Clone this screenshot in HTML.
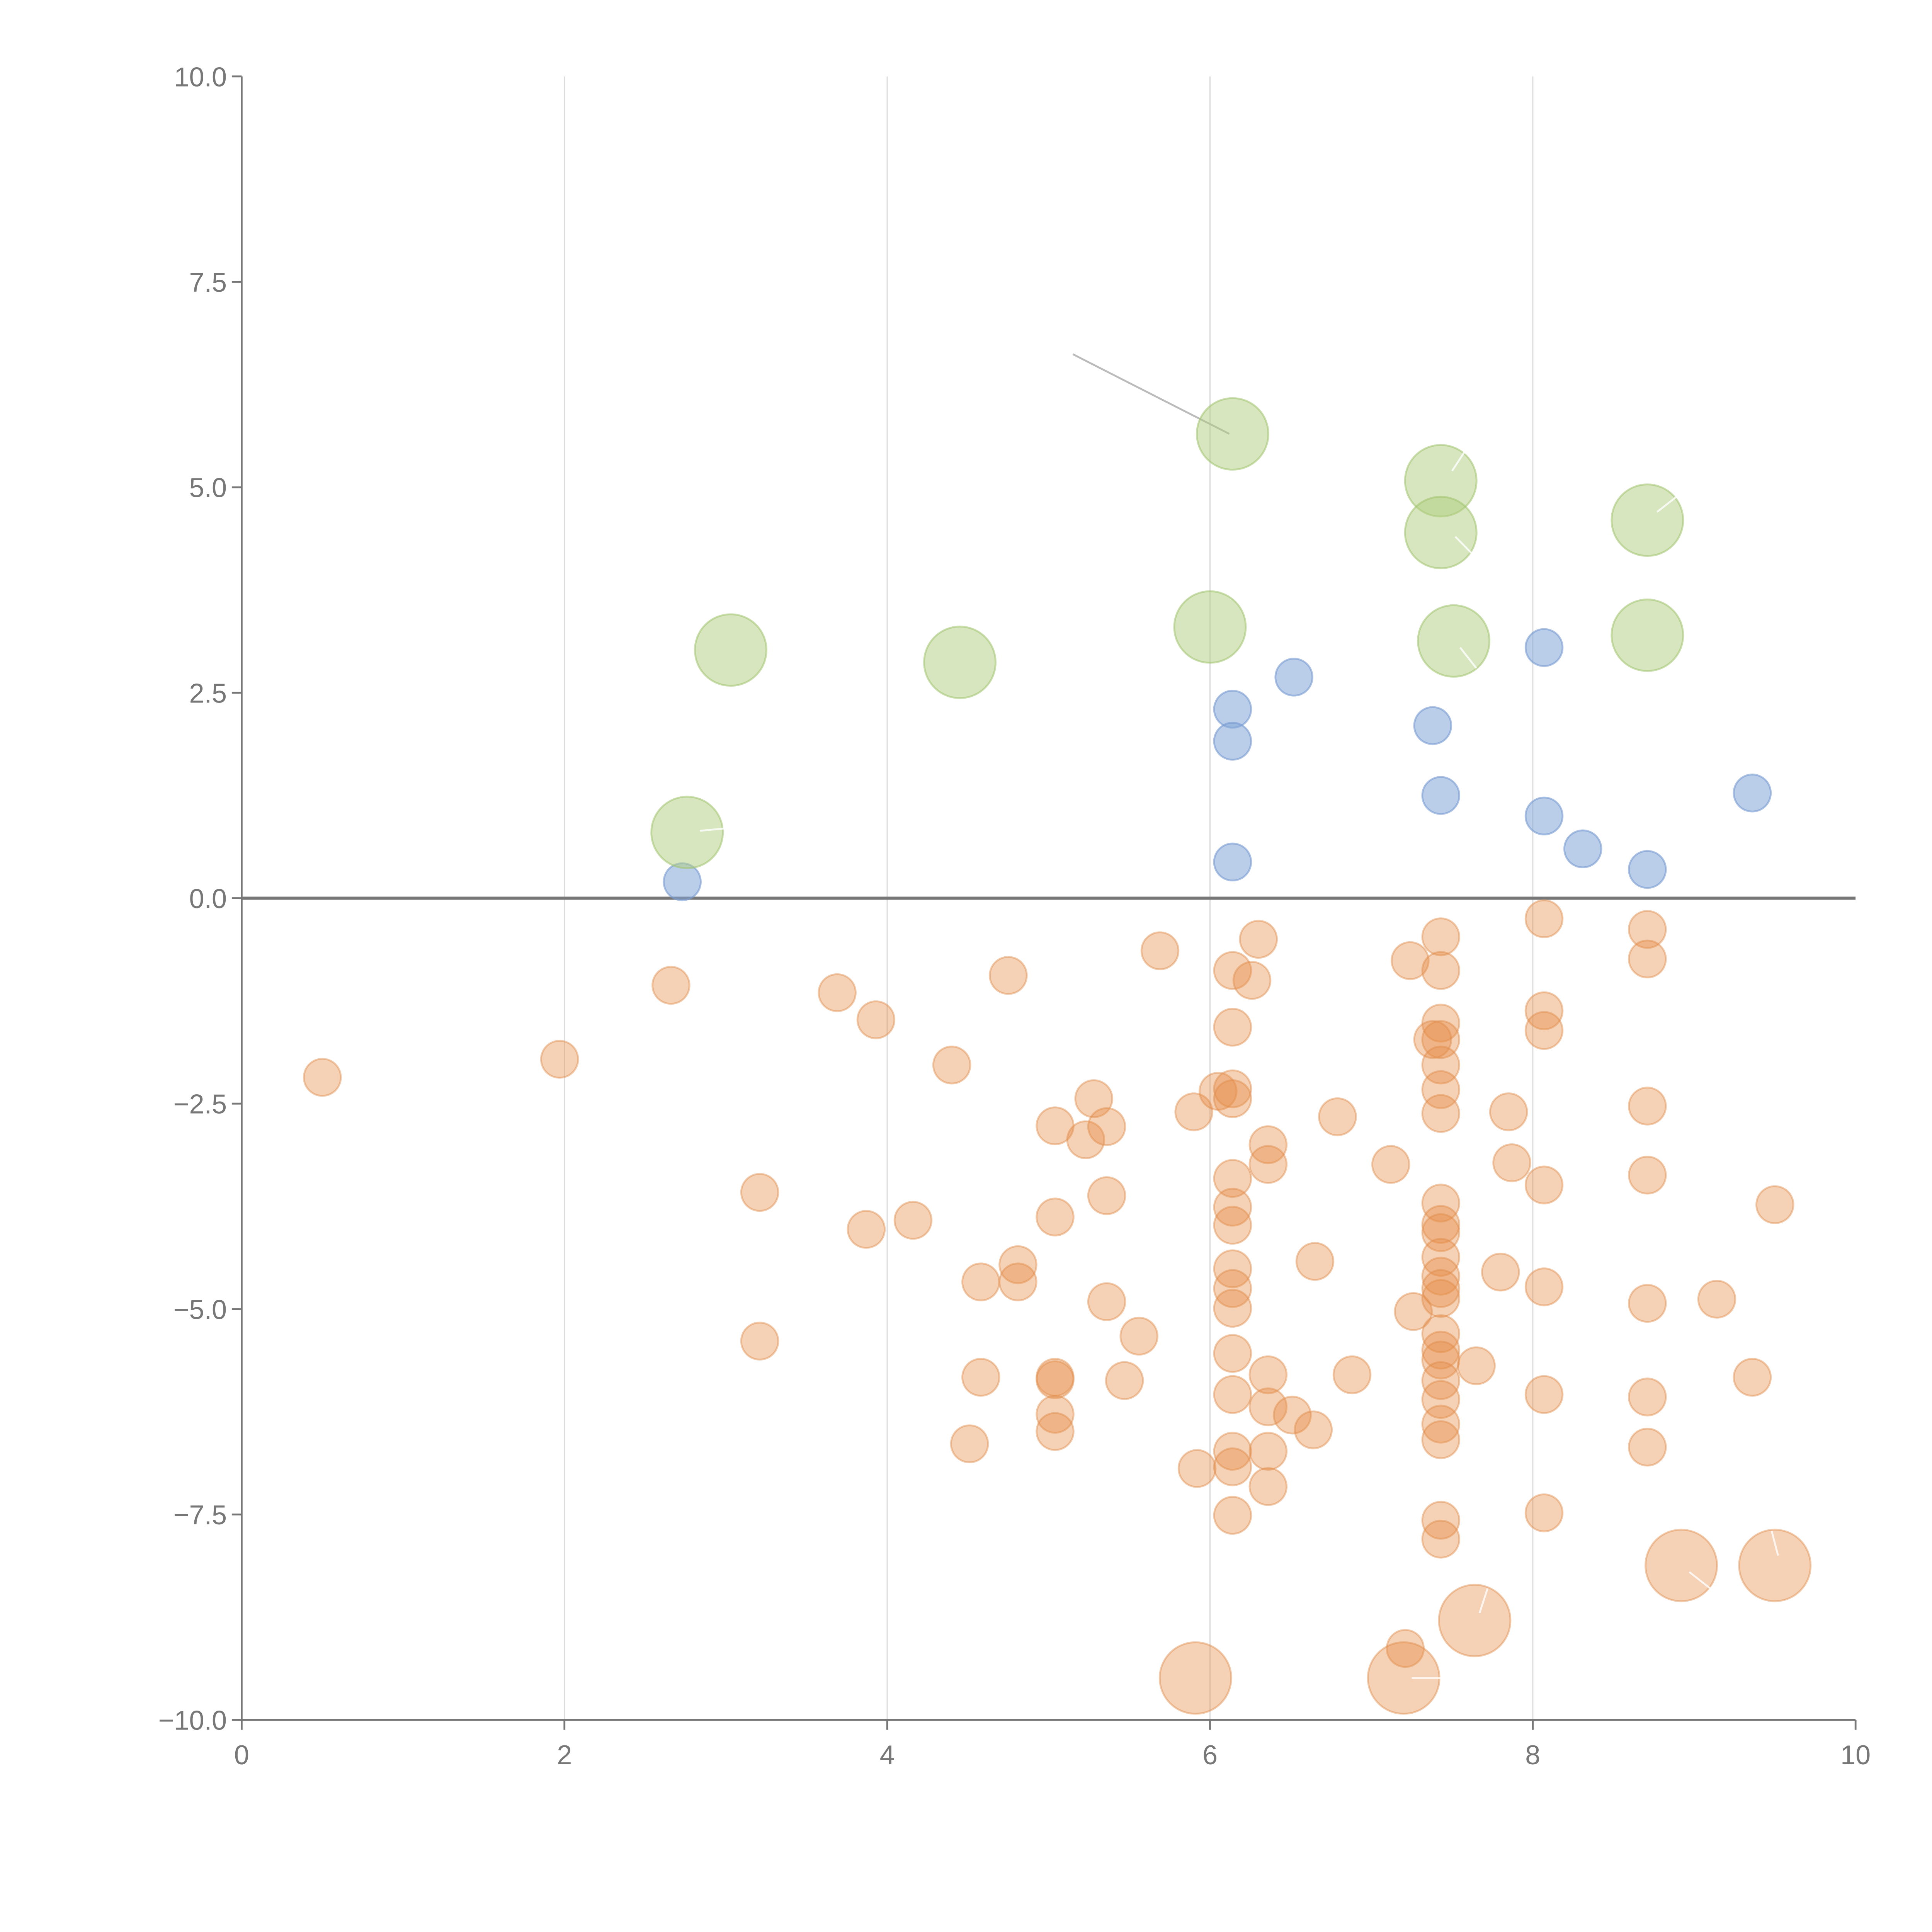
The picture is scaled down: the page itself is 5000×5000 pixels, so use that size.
<!DOCTYPE html>
<html><head><meta charset="utf-8"><style>
html,body{margin:0;padding:0;background:#fff;}
svg{display:block;}
text{font-family:"Liberation Sans",Arial,sans-serif;fill:#777;font-size:22px;}
</style></head><body>
<svg id="chart" width="5000" height="5000" viewBox="0 0 1567 1567" xmlns="http://www.w3.org/2000/svg"></svg>
<script>
const xTicks=[0,2,4,6,8,10];
const yTicks=[10,7.5,5,2.5,0,-2.5,-5,-7.5,-10];
const yTickLabels=["10.0","7.5","5.0","2.5","0.0","\u22122.5","\u22125.0","\u22127.5","\u221210.0"];
const greenX=[3.03,4.45,2.76,6.0,6.14,7.43,7.43,7.51,8.71,8.71];
const greenY=[3.02,2.87,0.80,3.3,5.65,5.08,4.45,3.13,4.6,3.2];
const blueX=[2.73,6.14,6.14,6.14,6.52,7.38,7.43,8.07,8.07,8.31,8.71,9.36];
const blueY=[0.2,2.3,1.91,0.44,2.69,2.1,1.25,3.05,1.0,0.6,0.35,1.28];
const orangeX=[0.50,1.97,2.66,3.21,3.21,3.69,3.87,3.93,4.16,4.40,4.51,4.58,4.58,4.75,4.81,4.81,5.04,5.04,5.04,5.04,5.04,5.04,5.23,5.28,5.36,5.36,5.36,5.47,5.56,5.69,5.90,5.92,6.05,
6.14,6.14,6.14,6.14,6.14,6.14,6.14,6.14,6.14,6.14,6.14,6.14,6.14,6.14,6.14,
6.26,6.30,6.36,6.36,6.36,6.36,6.36,6.36,6.51,6.65,6.64,6.79,6.88,7.12,7.24,7.26,7.21,
7.43,7.43,7.43,7.43,7.38,7.43,7.43,7.43,7.43,7.43,7.43,7.43,7.43,7.43,7.43,7.43,7.43,7.43,7.43,7.43,7.43,7.43,7.43,7.43,
7.65,7.80,7.85,7.87,8.07,8.07,8.07,8.07,8.07,8.07,8.07,8.71,8.71,8.71,8.71,8.71,8.71,8.71,9.14,9.36,9.50];
const orangeY=[-2.18,-1.96,-1.06,-3.58,-5.39,-1.15,-4.03,-1.48,-3.92,-2.03,-6.64,-4.67,-5.83,-0.94,-4.46,-4.67,-2.77,-3.88,-5.83,-5.86,-6.28,-6.49,-2.94,-2.44,-4.91,-2.78,-3.62,-5.87,-5.33,-0.64,-2.60,-6.94,-2.35,
-0.88,-1.57,-2.32,-2.44,-3.41,-3.76,-3.98,-4.51,-4.75,-4.99,-5.54,-6.04,-6.73,-6.92,-7.51,
-1.0,-0.5,-3.0,-3.24,-5.80,-6.19,-6.73,-7.16,-6.29,-4.42,-6.47,-2.66,-5.80,-3.24,-0.76,-5.03,-9.13,
-0.47,-0.88,-1.52,-1.72,-1.72,-2.03,-2.33,-2.62,-3.71,-3.97,-4.07,-4.37,-4.60,-4.87,-5.30,-5.50,-5.62,-5.87,-6.10,-6.40,-6.59,-7.57,-7.80,-4.75,
-5.69,-4.55,-2.60,-3.22,-0.25,-1.37,-1.61,-3.49,-4.73,-6.04,-7.48,-0.38,-0.74,-2.53,-3.37,-4.93,-6.07,-6.68,-4.88,-5.83,-3.73];
const bigOrangeX=[5.91,7.20,7.64,8.92,9.50];
const bigOrangeY=[-9.49,-9.49,-8.79,-8.12,-8.12];

const NS="http://www.w3.org/2000/svg";
const svg=document.getElementById('chart');
const X0=196,X1=1505,Y0=1395,Y1=62;
const sx=v=>X0+(v-0)/(10-0)*(X1-X0);
const sy=v=>Y0-(v+10)/20*(Y0-Y1);
function mk(tag,attrs,parent){const e=document.createElementNS(NS,tag);for(const k in attrs)e.setAttribute(k,attrs[k]);(parent||svg).appendChild(e);return e;}

const grid=mk('g',{});


[2,4,6,8].forEach(v=>{const l=mk('line',{x1:sx(v),x2:sx(v),y1:Y1,y2:Y0,stroke:'#ddd','stroke-width':1},grid);

});

const ax=mk('g',{});


const yl=mk('line',{x1:X0,x2:X0,y1:Y1,y2:Y0,stroke:'#777','stroke-width':1.5},ax);


const xl=mk('line',{x1:X0,x2:X1,y1:Y0,y2:Y0,stroke:'#777','stroke-width':1.5},ax);


xTicks.forEach(v=>{mk('line',{x1:sx(v),x2:sx(v),y1:Y0,y2:Y0+8,stroke:'#777','stroke-width':1.5},ax);
const t=mk('text',{x:sx(v),y:Y0+36,'text-anchor':'middle'},ax);t.textContent=v;

});
yTicks.forEach((v,i)=>{mk('line',{x1:X0-8,x2:X0,y1:sy(v),y2:sy(v),stroke:'#777','stroke-width':1.5},ax);
const t=mk('text',{x:X0-12,y:sy(v)+8,'text-anchor':'end'},ax);t.textContent=yTickLabels[i];

});

const zl=mk('line',{x1:X0,x2:X1,y1:sy(0),y2:sy(0),stroke:'#777','stroke-width':2.5});



const ann=mk('line',{x1:sx(5.15),y1:sy(6.62),x2:sx(6.12),y2:sy(5.65),stroke:'#bbb','stroke-width':1.5});



function series(xs,ys,r,fill,stroke,name){
  const g=mk('g',{});
  
  
  xs.forEach((x,i)=>{const c=mk('circle',{cx:sx(x),cy:sy(ys[i]),r:r,fill:fill,stroke:stroke,'stroke-width':1.5},g);
  
  });
}
series(orangeX,orangeY,15,'rgba(229,140,70,0.4)','rgba(225,140,75,0.45)','orange');
series(bigOrangeX,bigOrangeY,29,'rgba(229,140,70,0.4)','rgba(225,140,75,0.45)','orange-large');
series(blueX,blueY,15,'rgba(130,165,215,0.55)','rgba(120,155,210,0.6)','blue');
series(greenX,greenY,29,'rgba(175,206,125,0.5)','rgba(160,195,110,0.55)','green');

const wl=[[7.5,5.2,7.6,5.5],[7.52,4.4,7.62,4.2],[7.55,3.05,7.65,2.8],[8.77,4.7,8.9,4.9],[2.84,0.82,3.0,0.85],[8.97,-8.2,9.1,-8.4],[9.52,-8.0,9.48,-7.7],[7.67,-8.7,7.72,-8.4],[7.25,-9.49,7.45,-9.49]];
wl.forEach(s=>{const l=mk('line',{x1:sx(s[0]),y1:sy(s[1]),x2:sx(s[2]),y2:sy(s[3]),stroke:'#fff','stroke-width':1.5,opacity:0.8});

});
</script>
</body></html>
